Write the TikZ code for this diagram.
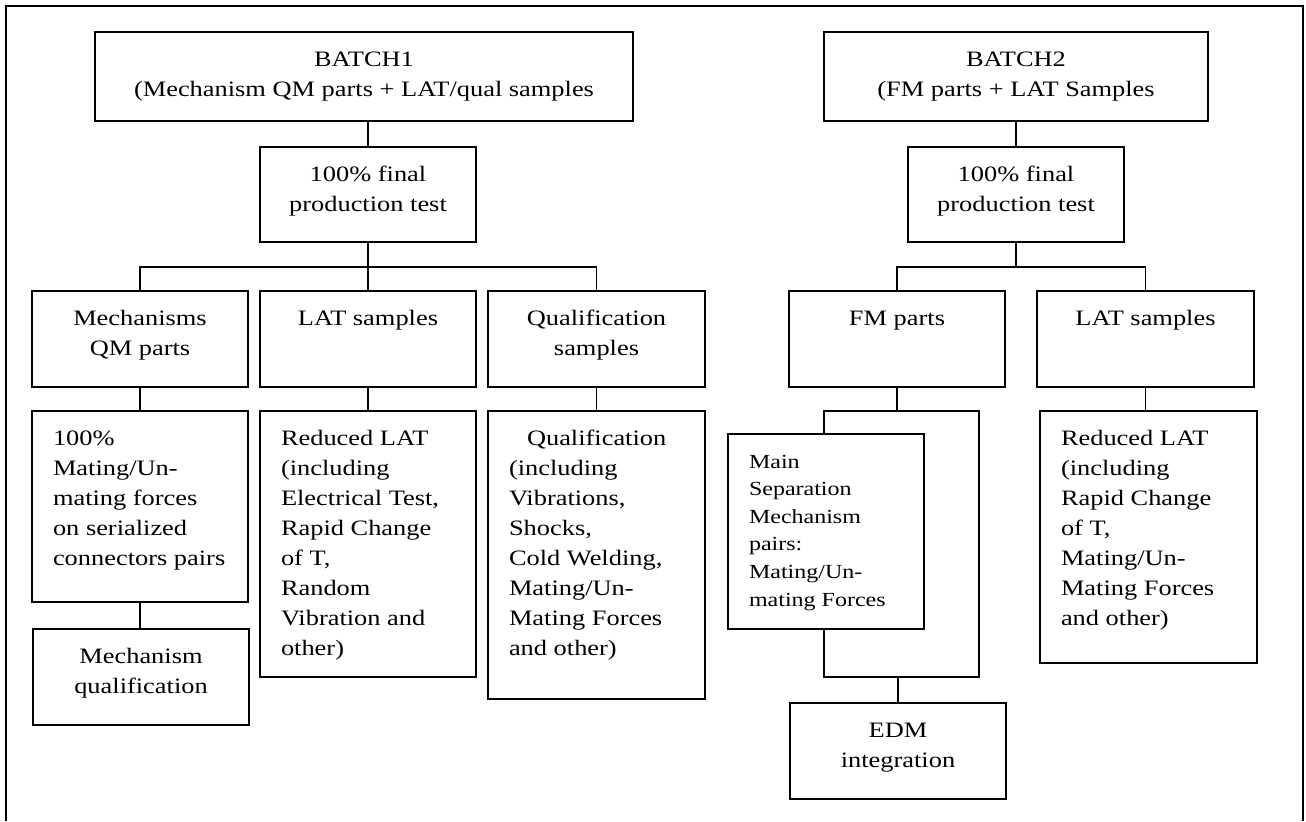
\documentclass[tikz,border=0pt]{standalone}
\usepackage{fontspec}
\setmainfont{Liberation Serif}[FakeStretch=1.2]
\newlength{\pxu}
\setlength{\pxu}{0.5pt}
% box text: width, height (px), alignment, lines
\newcommand{\btxt}[4]{\parbox[t][#2\pxu][t]{\dimexpr#1\pxu-21pt\relax}{#3\rule{0pt}{17pt}#4}}
\tikzset{
  box/.style={draw, rectangle, line width=.7pt, fill=white, inner xsep=10.5pt, inner ysep=0pt, outer sep=0pt, anchor=north west},
  link/.style={line width=.7pt},
  pageframe/.style={line width=1.1pt}
}

\begin{document}
\begin{tikzpicture}[x=0.5pt,y=-0.5pt,font=\fontsize{11}{15}\selectfont]
  \useasboundingbox (0,0) rectangle (1306,821);
  \draw[pageframe] (6,821) -- (6,6) -- (1303,6) -- (1303,821);

  %batch 1 tree
  \node[box] (b1) at (95,32) {\btxt{538}{89}{\centering}{BATCH1\\(Mechanism QM parts + LAT/qual samples}};
  \node[box] (p1) at (260,147) {\btxt{216}{95}{\centering}{100\% final\\production test}};
  \coordinate (j1) at (368,267);
  \node[box] (mech) at (32,291) {\btxt{216}{96}{\centering}{Mechanisms\\QM parts}};
  \node[box] (lat1) at (260,291) {\btxt{216}{96}{\centering}{LAT samples}};
  \node[box] (qual) at (488,291) {\btxt{217}{96}{\centering}{Qualification\\samples}};
  \node[box] (mate) at (32,411) {\btxt{216}{191}{\raggedright}{100\%\\Mating/Un-\\mating forces\\on serialized\\connectors pairs}};
  \node[box] (mqual) at (33,629) {\btxt{216}{96}{\centering}{Mechanism\\qualification}};
  \node[box] (rlat1) at (260,411) {\btxt{216}{266}{\raggedright}{Reduced LAT\\(including\\Electrical Test,\\Rapid Change\\of T,\\Random\\Vibration and\\other)}};
  \node[box] (qtest) at (488,411) {\btxt{217}{288}{\raggedright}{\hspace*{9pt}Qualification\\(including\\Vibrations,\\Shocks,\\Cold Welding,\\Mating/Un-\\Mating Forces\\and other)}};

  \draw[link] (p1.north) -- (p1.north |- b1.south);
  \draw[link] (p1.south) -- (lat1.north);
  \draw[link] (mech.north) |- (j1) -| (qual.north);
  \draw[link] (mech.south) -- (mech.south |- mate.north);
  \draw[link] (mate.south) -- (mate.south |- mqual.north);
  \draw[link] (lat1.south) -- (rlat1.north);
  \draw[link] (qual.south) -- (qual.south |- qtest.north);

  %batch 2 tree
  \node[box] (b2) at (824,32) {\btxt{384}{89}{\centering}{BATCH2\\(FM parts + LAT Samples}};
  \node[box] (p2) at (908,147) {\btxt{216}{95}{\centering}{100\% final\\production test}};
  \coordinate (j2) at (1016,267);
  \node[box] (fm) at (789,291) {\btxt{216}{96}{\centering}{FM parts}};
  \node[box] (lat2) at (1037,291) {\btxt{217}{96}{\centering}{LAT samples}};
  \node[box, minimum width=155\pxu, minimum height=266\pxu] (fmbox) at (824,411) {};
  \node[box] (msm) at (728,434) {\btxt{196}{195}{\raggedright\fontsize{10}{13.8}\selectfont}{Main\\Separation\\Mechanism\\pairs:\\Mating/Un-\\mating Forces}};
  \node[box] (edm) at (790,703) {\btxt{216}{96}{\centering}{EDM\\integration}};
  \node[box] (rlat2) at (1040,411) {\btxt{217}{252}{\raggedright}{Reduced LAT\\(including\\Rapid Change\\of T,\\Mating/Un-\\Mating Forces\\and other)}};

  \draw[link] (p2.north) -- (p2.north |- b2.south);
  \draw[link] (p2.south) -- (j2);
  \draw[link] (fm.north) |- (j2) -| (lat2.north);
  \draw[link] (fm.south) -- (fm.south |- fmbox.north);
  \draw[link] (edm.north) -- (edm.north |- fmbox.south);
  \draw[link] (lat2.south) -- (lat2.south |- rlat2.north);
\end{tikzpicture}
\end{document}
